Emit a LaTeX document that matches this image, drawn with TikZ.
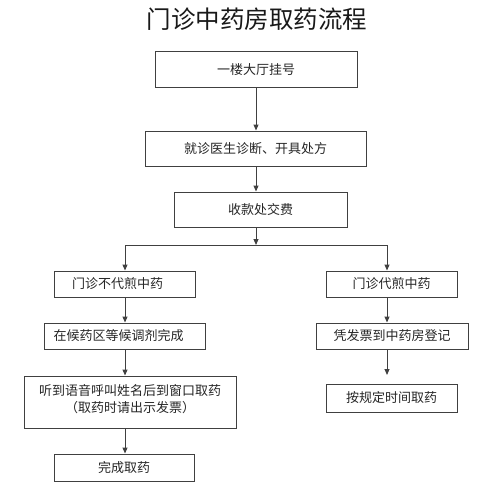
\documentclass[tikz,border=0pt]{standalone}
\usepackage{fontspec}
\newfontfamily\cjk{Noto Sans CJK SC}
\usetikzlibrary{arrows.meta}
\begin{document}
\begin{tikzpicture}[x=1pt,y=-1pt,
  box/.style={draw=black!75, line width=1pt, fill=white, inner sep=0pt,
    font=\cjk\fontsize{13}{17}\selectfont, text=black!85, align=center},
  arr/.style={draw=black!75, line width=1pt, -{Triangle[length=6pt,width=5pt]}},
  ln/.style={draw=black!75, line width=1pt}]
\useasboundingbox (0,0) rectangle (496,500);
\node[font=\cjk\fontsize{24.5}{28}\selectfont, text=black!90] (title) at (257,19) {门诊中药房取药流程};
\node[box, minimum width=202pt, minimum height=36pt] (b1) at (256,70) {一楼大厅挂号};
\node[box, minimum width=221pt, minimum height=35pt] (b2) at (255.5,148.5) {就诊医生诊断、开具处方};
\node[box, minimum width=173pt, minimum height=35pt] (b3) at (260.5,209.5) {收款处交费};
\node[box, minimum width=141pt, minimum height=26pt] (l1) at (124.5,284) {\hspace*{-14pt}门诊不代煎中药};
\node[box, minimum width=161pt, minimum height=26pt] (l2) at (124.5,336) {\hspace*{-12pt}在候药区等候调剂完成};
\node[box, minimum width=212pt, minimum height=52pt] (l3) at (130,402) {听到语音呼叫姓名后到窗口取药\\（取药时请出示发票）\\[-10pt]};
\node[box, minimum width=140pt, minimum height=27pt] (l4) at (124,467.5) {完成取药};
\node[box, minimum width=131pt, minimum height=26pt] (r1) at (391.5,284) {门诊代煎中药};
\node[box, minimum width=152pt, minimum height=26pt] (r2) at (392,336) {凭发票到中药房登记};
\node[box, minimum width=131pt, minimum height=28pt] (r3) at (391.5,398) {按规定时间取药};
\coordinate (j) at (256,245);
\coordinate (jl) at (125,245);
\coordinate (jr) at (387,245);
\coordinate (rgap) at (387,375);
\draw[arr] (j |- b1.south) -- (j |- b2.north);
\draw[arr] (j |- b2.south) -- (j |- b3.north);
\draw[arr] (j |- b3.south) -- (j);
\draw[ln] (jl) -- (jr);
\draw[arr] (jl) -- (jl |- l1.north);
\draw[arr] (jr) -- (jr |- r1.north);
\draw[arr] (jl |- l1.south) -- (jl |- l2.north);
\draw[arr] (jl |- l2.south) -- (jl |- l3.north);
\draw[arr] (jl |- l3.south) -- (jl |- l4.north);
\draw[arr] (jr |- r1.south) -- (jr |- r2.north);
\draw[arr] (jr |- r2.south) -- (rgap);
\end{tikzpicture}
\end{document}
